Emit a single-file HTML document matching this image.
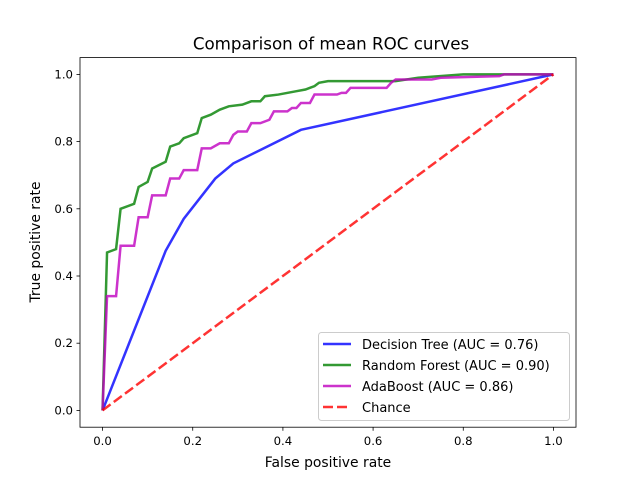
<!DOCTYPE html>
<html><head><meta charset="utf-8"><style>
body{margin:0;background:#fff}
svg text{font-family:"DejaVu Sans","Liberation Sans",sans-serif;fill:#000}
</style></head><body>
<svg id="chart" width="640" height="480" viewBox="0 0 640 480">
<rect width="640" height="480" fill="#fff"/>
<text x="331" y="49.5" font-size="16.7" text-anchor="middle">Comparison of mean ROC curves</text>
<g id="plot"></g>
<rect x="80" y="57.6" width="496" height="369.6" fill="none" stroke="#000" stroke-width="0.8"/>
<g id="ticks"></g>
<text x="328" y="467" font-size="13.9" text-anchor="middle">False positive rate</text>
<text x="0" y="0" font-size="13.9" text-anchor="middle" transform="translate(40,242) rotate(-90)">True positive rate</text>
<g>
<rect x="318.5" y="332.5" width="251" height="88" rx="3" fill="#fff" fill-opacity="0.8" stroke="#ccc"/>
<line x1="323" y1="344" x2="351" y2="344" stroke="#3333ff" stroke-width="2.5"/>
<text x="362" y="349" font-size="13">Decision Tree (AUC = 0.76)</text>
<line x1="323" y1="365" x2="351" y2="365" stroke="#339933" stroke-width="2.5"/>
<text x="362" y="370" font-size="13">Random Forest (AUC = 0.90)</text>
<line x1="323" y1="386" x2="351" y2="386" stroke="#cc33cc" stroke-width="2.5"/>
<text x="362" y="391" font-size="13">AdaBoost (AUC = 0.86)</text>
<line x1="323" y1="407" x2="351" y2="407" stroke="#ff3333" stroke-width="2.5" stroke-dasharray="10,4"/>
<text x="362" y="412" font-size="13">Chance</text>
</g>
</svg>
<script>
const xTicks=[0,0.2,0.4,0.6,0.8,1.0];
const yTicks=[0,0.2,0.4,0.6,0.8,1.0];
const treeX=[0,0.14,0.18,0.25,0.29,0.35,0.44,1];
const treeY=[0,0.475,0.57,0.69,0.735,0.775,0.835,1];
const rfX=[0,0.01,0.03,0.04,0.07,0.08,0.10,0.11,0.14,0.15,0.17,0.18,0.21,0.22,0.24,0.26,0.28,0.31,0.33,0.35,0.36,0.39,0.43,0.45,0.46,0.47,0.48,0.50,0.65,0.70,0.80,1];
const rfY=[0,0.47,0.48,0.60,0.615,0.665,0.68,0.72,0.74,0.785,0.795,0.81,0.825,0.87,0.88,0.895,0.905,0.91,0.92,0.92,0.935,0.94,0.95,0.955,0.96,0.965,0.975,0.98,0.98,0.99,1.0,1];
const adaX=[0,0.01,0.03,0.04,0.07,0.08,0.10,0.11,0.14,0.15,0.17,0.18,0.21,0.22,0.24,0.26,0.28,0.29,0.30,0.32,0.33,0.35,0.37,0.38,0.41,0.42,0.43,0.44,0.46,0.47,0.52,0.53,0.54,0.55,0.63,0.64,0.65,0.73,0.75,0.88,0.89,1];
const adaY=[0,0.34,0.34,0.49,0.49,0.575,0.575,0.64,0.64,0.69,0.69,0.715,0.715,0.78,0.78,0.795,0.795,0.82,0.83,0.83,0.855,0.855,0.865,0.89,0.89,0.9,0.9,0.915,0.915,0.94,0.94,0.945,0.945,0.96,0.96,0.975,0.985,0.985,0.99,0.995,1.0,1];
const chanceX=[0,1];
const chanceY=[0,1];
const NS='http://www.w3.org/2000/svg';
function sx(v){return 80+496*(v+0.05)/1.1;}
function sy(v){return 427.2-369.6*(v+0.05)/1.1;}
const plot=document.getElementById('plot');
function line(xs,ys,color,name,dash){
  const p=document.createElementNS(NS,'polyline');
  p.setAttribute('points',xs.map((x,i)=>sx(x).toFixed(2)+','+sy(ys[i]).toFixed(2)).join(' '));
  p.setAttribute('fill','none');p.setAttribute('stroke',color);p.setAttribute('stroke-width','2.5');
  p.setAttribute('stroke-opacity','0.8');
  if(dash)p.setAttribute('stroke-dasharray','10,4');
  
  
  plot.appendChild(p);
}
line(treeX,treeY,'#0000ff','decision-tree-curve');
line(rfX,rfY,'#008000','random-forest-curve');
line(adaX,adaY,'#bf00bf','adaboost-curve');
line(chanceX,chanceY,'#ff0000','chance-line',true);
const tg=document.getElementById('ticks');
xTicks.forEach(v=>{
  const l=document.createElementNS(NS,'line');
  l.setAttribute('x1',sx(v));l.setAttribute('x2',sx(v));l.setAttribute('y1',427.2);l.setAttribute('y2',430.7);l.setAttribute('stroke','#000');l.setAttribute('stroke-width','0.8');
  
  
  tg.appendChild(l);
  const t=document.createElementNS(NS,'text');
  t.setAttribute('x',sx(v));t.setAttribute('y',445);t.setAttribute('font-size','11.7');t.setAttribute('text-anchor','middle');
  t.textContent=v.toFixed(1);
  
  
  tg.appendChild(t);
});
yTicks.forEach(v=>{
  const l=document.createElementNS(NS,'line');
  l.setAttribute('x1',76.5);l.setAttribute('x2',80);l.setAttribute('y1',sy(v));l.setAttribute('y2',sy(v));l.setAttribute('stroke','#000');l.setAttribute('stroke-width','0.8');
  
  
  tg.appendChild(l);
  const t=document.createElementNS(NS,'text');
  t.setAttribute('x',73);t.setAttribute('y',sy(v)+4);t.setAttribute('font-size','11.7');t.setAttribute('text-anchor','end');
  t.textContent=v.toFixed(1);
  
  
  tg.appendChild(t);
});
</script>
</body></html>
